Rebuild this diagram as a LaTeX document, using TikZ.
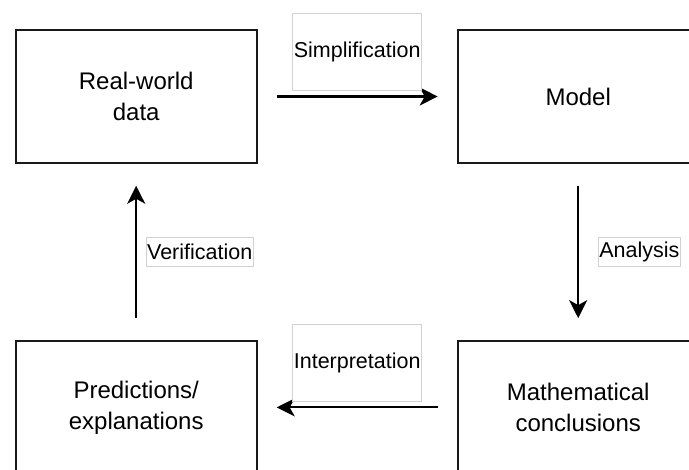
\documentclass[tikz,border=0pt]{standalone}
\usepackage{fontspec}
\setmainfont{Liberation Sans}
\usetikzlibrary{arrows.meta,positioning}

\begin{document}
\begin{tikzpicture}[x=1pt, y=-1pt,
  box/.style={draw=black!90, line width=2.2pt, outer sep=0pt, minimum width=241pt, minimum height=133.5pt,
              align=center, font=\fontsize{24}{31}\selectfont},
  arr/.style={-{Stealth[length=18pt,width=18pt,inset=5pt]}, line width=2.2pt,
              shorten <=20pt, shorten >=20pt},
  lbl/.style={draw=gray!35, line width=0.8pt, fill=white, inner xsep=1.2pt,
              minimum height=29pt, font=\fontsize{21.5}{24}\selectfont},
  tall/.style={minimum height=77pt}
]
  \useasboundingbox (0,0) rectangle (689,470);
  \node[box] (data) at (136.2,96.5) {Real-world\\data};
  \node[box, right=201pt of data] (model) {Model};
  \node[box, below=177.4pt of model] (concl) {Mathematical\\conclusions};
  \node[box, below=177.4pt of data] (pred) {Predictions/\\explanations};
  \draw[arr] (data) -- node[lbl, tall, above=6pt] (simp) {Simplification} (model);
  \draw[arr, shorten <=22.5pt, shorten >=22.5pt] (model) -- node[lbl, right=19.6pt] (anal) {Analysis} (concl);
  \draw[arr] (concl) -- node[lbl, tall, above=6pt] (interp) {Interpretation} (pred);
  \draw[arr, shorten <=22.5pt, shorten >=22.5pt] (pred) -- node[lbl, right=9.3pt] (verif) {Verification} (data);
\end{tikzpicture}
\end{document}
